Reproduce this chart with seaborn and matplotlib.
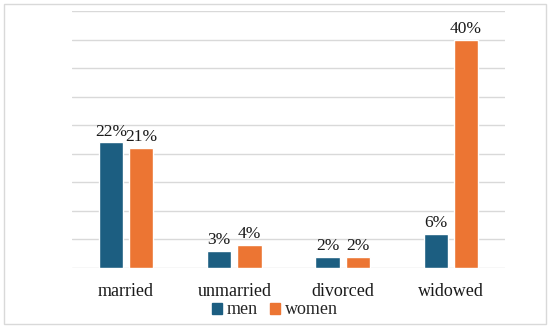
import matplotlib
matplotlib.use("Agg")
import matplotlib.pyplot as plt
import seaborn as sns
import pandas as pd
from matplotlib.patches import Rectangle

categories = ["married", "unmarried", "divorced", "widowed"]
men = [22, 3, 2, 6]
women = [21, 4, 2, 40]
series = ["men", "women"]
colors = ["#1C5E81", "#EC7533"]

df = pd.DataFrame({
    "category": categories * 2,
    "value": men + women,
    "series": ["men"] * len(categories) + ["women"] * len(categories),
})

sns.set_theme(style="white")
plt.rcParams["font.family"] = ["Liberation Serif", "DejaVu Serif"]

fig = plt.figure(figsize=(5.5, 3.3), dpi=100)
L, R, T, B = 72, 505, 11, 268
ax = fig.add_axes([L/550, 1 - B/330, (R-L)/550, (B-T)/330])

sns.barplot(data=df, x="category", y="value", hue="series", order=categories,
            hue_order=series, palette=colors, width=0.56, gap=0.2,
            saturation=1, ax=ax, legend=False)

ax.set_ylim(0, 45)
ax.set_yticks(range(0, 46, 5))
ax.yaxis.grid(True, color="#D9D9D9", linewidth=1)
ax.set_axisbelow(True)
ax.tick_params(axis="y", left=False, labelleft=False)
ax.tick_params(axis="x", bottom=False, labelsize=13, pad=5, colors="#1a1a1a")
for s in ax.spines.values():
    s.set_visible(False)
ax.set_xlabel("")
ax.set_ylabel("")

for cont in ax.containers:
    ax.bar_label(cont, labels=[f"{v:.0f}%" for v in cont.datavalues],
                 fontsize=12.5, padding=2, color="#1a1a1a")

handles = [Rectangle((0, 0), 1, 1, color=c) for c in colors]
fig.legend(handles, series, loc="center", bbox_to_anchor=(0.5, 1 - 310/330),
           ncol=2, frameon=False, fontsize=13, handlelength=0.55, handleheight=0.55,
           handletextpad=0.25, columnspacing=0.7, borderpad=0)

fig.add_artist(Rectangle((4/550, 6/330), 542/550, 320/330, transform=fig.transFigure,
                         fill=False, edgecolor="#D9D9D9", linewidth=1))

fig.savefig("out.png", dpi=100)
